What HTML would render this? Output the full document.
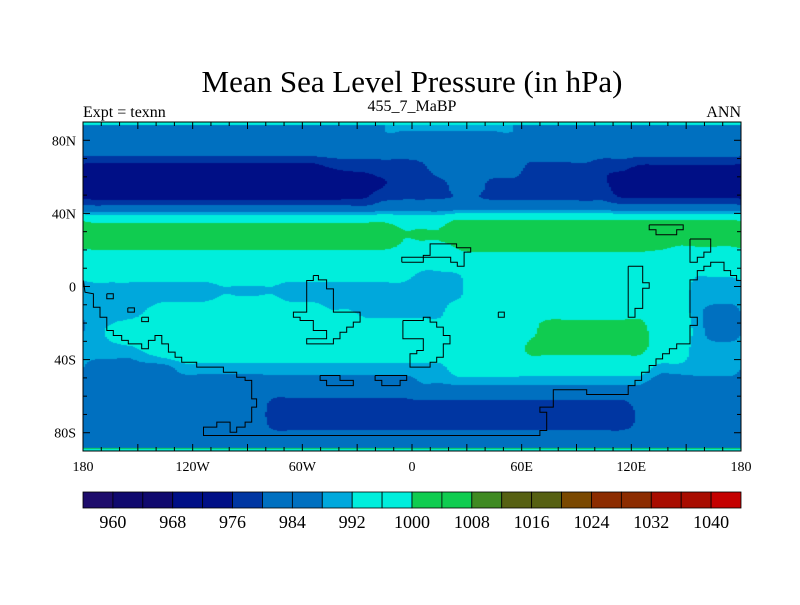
<!DOCTYPE html>
<html><head><meta charset="utf-8"><style>
body{margin:0;background:#fff;width:800px;height:600px;overflow:hidden;font-family:"Liberation Serif",serif}
svg text{font-family:"Liberation Serif",serif}
</style></head><body>
<svg id="chart" width="800" height="600" xmlns="http://www.w3.org/2000/svg">
<text x="412" y="92" font-size="31" text-anchor="middle">Mean Sea Level Pressure (in hPa)</text>
<text x="83" y="117" font-size="16">Expt = texnn</text>
<text x="412" y="111" font-size="16" text-anchor="middle">455_7_MaBP</text>
<text x="741" y="117" font-size="16" text-anchor="end">ANN</text>
<foreignObject x="83" y="122" width="658" height="329"><canvas xmlns="http://www.w3.org/1999/xhtml" id="cv" width="658" height="329" style="display:block"></canvas></foreignObject>
<g id="coast"></g>
<rect x="83" y="122" width="658" height="329" fill="none" stroke="#000" stroke-width="1"/>
<g id="axes"></g>
<g id="cbar"></g>
</svg>
<script>
// grid: rows lat 85..-85 step 10, cols lon -175..175 step 10 (hPa)
const lats=[85,75,65,55,45,35,25,15,5,-5,-15,-25,-35,-45,-55,-65,-75,-85];
const r=(v,n)=>Array(n).fill(v);
const mslp=[
 [...r(984,16),...r(988,8),...r(984,12)],
 r(983,36),
 [...r(974,13),976,977,977,978,978,979,...r(982,5),979,979,979,979,977,977,...r(975,6)],
 [...r(972,14),973,975,976,978,978,979,981,981,979,979,979,979,979,977,977,...r(973,7)],
 [...r(979,16),...r(982,13),...r(980,7)],
 [...r(1000,17),998,998,998,...r(1002,16)],
 [...r(1002,17),1000,1000,1000,1001,...r(1003,11),...r(1001,4)],
 [...r(997,18),995,995,...r(998,11),...r(997,5)],
 [...r(993,18),991,991,991,...r(997,12),992,992,992],
 [...r(990,7),992,992,992,992,...r(990,7),991,991,991,...r(997,12),990,990,990],
 [990,990,990,993,...r(997,9),993,993,...r(991,5),...r(997,4),...r(999,7),997,997,990,986,986],
 [990,993,...r(997,22),999,...r(1002,6),997,997,991,986,986],
 [990,990,990,993,...r(996,14),...r(997,6),...r(1001,7),997,997,990,990,990],
 [...r(986,5),...r(990,15),...r(995,11),...r(990,5)],
 [...r(984,18),...r(987,13),...r(984,5)],
 [...r(983,10),...r(978,20),...r(982,6)],
 [...r(983,10),...r(978,20),...r(981,6)],
 r(984,36)
];
const levels=[960,964,968,972,976,980,984,988,992,996,1000,1004,1008,1012,1016,1020,1024,1028,1032,1036,1040];
const colors=["#1e0c6c","#10096e","#10096e","#000f86","#000f86","#0036a2","#0070c0","#0070c0","#00a8dc","#00eedc","#00eedc","#10cc50","#10cc50","#3f8a22","#566012","#566012","#7a4800","#8c2c00","#8c2c00","#a80c00","#a80c00","#c40000"];
const tickLabelsX=["180","120W","60W","0","60E","120E","180"];
const tickLonX=[-180,-120,-60,0,60,120,180];
const tickLabelsY=["80N","40N","0","40S","80S"];
const tickLatY=[80,40,0,-40,-80];
const coasts=[
 [[-179.8,3.3],[-178.9,-3.1],[-174.3,-4],[-174.3,-11.3],[-170.7,-11.3],[-170.7,-16.8],[-167,-16.8],[-167,-24.1],[-163.4,-24.1],[-163.4,-26.8],[-158.8,-26.8],[-158.8,-29.5],[-155.2,-29.5],[-155.2,-31.4],[-147.9,-31.4],[-147.9,-34.1],[-144.2,-34.1],[-144.2,-29.5],[-140.6,-29.5],[-140.6,-26.8],[-136.9,-26.8],[-136.9,-31.4],[-133.3,-31.4],[-133.3,-35.9],[-129.6,-35.9],[-129.6,-38.7],[-126,-38.7],[-126,-41.4],[-117.8,-41.4],[-117.8,-44.1],[-103.2,-44.1],[-103.2,-46.9],[-95.9,-46.9],[-95.9,-49.6],[-91.3,-49.6],[-91.3,-51.4],[-87.7,-51.4],[-87.7,-61.5],[-85,-61.5],[-85,-66],[-87.7,-66],[-87.7,-74.2],[-91.3,-74.2],[-91.3,-76.9],[-95.9,-76.9],[-95.9,-79.7],[-99.5,-79.7],[-99.5,-74.2],[-106.8,-74.2],[-106.8,-76.9],[-114.1,-76.9],[-114.1,-81.5],
  [70,-81.5],[70,-78.8],[73.7,-78.8],[73.7,-68.8],[70,-68.8],[70,-66],[77.3,-66],[77.3,-56.5],[95.6,-56.5],[95.6,-59.1],[118.3,-59.1],[118.3,-54.2],[122,-54.2],[122,-51.4],[125.6,-51.4],[125.6,-46.9],[129.8,-46.9],[129.8,-43.2],[133.5,-43.2],[133.5,-39.6],[137.1,-39.6],[137.1,-36.8],[140.8,-36.8],[140.8,-34.1],[144.8,-34.1],[144.8,-31.4],[152.1,-31.4],[152.1,-21.3],[156.1,-21.3],[156.1,-16.8],[152.1,-16.8],[152.1,3.6],[156.1,3.6],[156.1,8.7],[159.7,8.7],[159.7,11.1],[163.4,11.1],[163.4,13.3],[170.7,13.3],[170.7,8.7],[174.3,8.7],[174.3,6],[177.6,6],[177.6,3.3],[180,3.3]],
 [[-54,6],[-51.2,6],[-51.2,3.6],[-46.7,3.6],[-46.7,-1.3],[-43,-1.3],[-43,-14],[-28.4,-14],[-28.4,-19.5],[-32.1,-19.5],[-32.1,-22.2],[-35.7,-22.2],[-35.7,-25],[-39.4,-25],[-39.4,-28.6],[-43,-28.6],[-43,-31.4],[-57.6,-31.4],[-57.6,-28.6],[-46.7,-28.6],[-46.7,-24.1],[-54,-24.1],[-54,-18.6],[-61.2,-18.6],[-61.2,-16.8],[-64.9,-16.8],[-64.9,-14],[-57.6,-14],[-57.6,3.3],[-54,3.3],[-54,6]],
 [[-5,-18.6],[6.2,-18.6],[6.2,-16.8],[9.9,-16.8],[9.9,-19.5],[13.5,-19.5],[13.5,-22.2],[17.1,-22.2],[17.1,-26.8],[20.8,-26.8],[20.8,-31.4],[17.1,-31.4],[17.1,-38.7],[13.5,-38.7],[13.5,-41.4],[9.9,-41.4],[9.9,-44.1],[-1.1,-44.1],[-1.1,-36.8],[2.6,-36.8],[2.6,-35],[6.2,-35],[6.2,-28.6],[-5,-28.6],[-5,-18.6]],
 [[-5.6,13.3],[-5.6,16],[6.2,16],[6.2,17],[9.9,17],[9.9,23.3],[24.4,23.3],[24.4,21.2],[32.1,21.2],[32.1,18.8],[28.5,18.8],[28.5,11.1],[24.8,11.1],[24.8,13.3],[21.2,13.3],[21.2,16],[6.2,16],[6.2,13.3],[-5.6,13.3]],
 [[129.8,33.7],[148.4,33.7],[148.4,31],[144.8,31],[144.8,28.3],[133.5,28.3],[133.5,31],[129.8,31],[129.8,33.7]],
 [[152.1,26],[163.4,26],[163.4,18.8],[159.7,18.8],[159.7,16],[156.1,16],[156.1,13.3],[152.1,13.3],[152.1,26]],
 [[118.3,11.1],[126.2,11.1],[126.2,2],[129.8,2],[129.8,-1],[126.2,-1],[126.2,-12],[122,-12],[122,-16.8],[118.3,-16.8],[118.3,11.1]],
 [[47.2,-14],[50.5,-14],[50.5,-16.8],[47.2,-16.8],[47.2,-14]],
 [[-167,-4],[-163.4,-4],[-163.4,-6.7],[-167,-6.7],[-167,-4]],
 [[-155.5,-11.7],[-151.9,-11.7],[-151.9,-14],[-155.5,-14],[-155.5,-11.7]],
 [[-147.9,-16.8],[-144.2,-16.8],[-144.2,-19.2],[-147.9,-19.2],[-147.9,-16.8]],
 [[-50.3,-48.7],[-39.4,-48.7],[-39.4,-51.4],[-32.1,-51.4],[-32.1,-54.2],[-46.7,-54.2],[-46.7,-51.4],[-50.3,-51.4],[-50.3,-48.7]],
 [[-20.2,-48.7],[-2.9,-48.7],[-2.9,-51.4],[-6.5,-51.4],[-6.5,-54.2],[-16.5,-54.2],[-16.5,-51.4],[-20.2,-51.4],[-20.2,-48.7]]
];
const X0=83,X1=741,Y0=122,Y1=451;
const xOf=lon=>X0+(lon+180)/360*(X1-X0);
const yOf=lat=>Y0+(90-lat)/180*(Y1-Y0);
const NS="http://www.w3.org/2000/svg";
function mk(t,a,p){const e=document.createElementNS(NS,t);for(const k in a)e.setAttribute(k,a[k]);(p||document.getElementById('chart')).appendChild(e);return e;}
function colorFor(v){let k=0;while(k<levels.length&&v>=levels[k])k++;return colors[k];}
function cr(p0,p1,p2,p3,t){return 0.5*((2*p1)+(-p0+p2)*t+(2*p0-5*p1+4*p2-p3)*t*t+(-p0+3*p1-3*p2+p3)*t*t*t);}
const NC=mslp[0].length,NR=lats.length;
function g(ri,ci){ri=Math.max(0,Math.min(NR-1,ri));ci=((ci%NC)+NC)%NC;return mslp[ri][ci];}
function sample(lon,lat){
 let c=(lon+175)/10;c=((c%NC)+NC)%NC;
 let rr=(lats[0]-lat)/10;rr=Math.max(0,Math.min(NR-1,rr));
 const c0=Math.floor(c),fc=c-c0,r0=Math.floor(rr),fr=rr-r0;
 const rows=[];
 for(let k=-1;k<=2;k++){rows.push(cr(g(r0+k,c0-1),g(r0+k,c0),g(r0+k,c0+1),g(r0+k,c0+2),fc));}
 return cr(rows[0],rows[1],rows[2],rows[3],fr);
}
const cv=document.getElementById('cv');


const ctx=cv.getContext('2d');const W=cv.width,H=cv.height;
for(let py=0;py<H;py++){for(let px=0;px<W;px+=2){
 const lon=-180+(px+1)/W*360,lat=90-(py+0.5)/H*180;
 ctx.fillStyle=colorFor(sample(lon,lat));ctx.fillRect(px,py,2,1);}}
ctx.fillStyle="#00eedc";ctx.fillRect(0,0,W,3);
ctx.fillStyle="#10cc50";ctx.fillRect(0,H-3,W,1);ctx.fillStyle="#00eedc";ctx.fillRect(0,H-2,W,2);
const cg=document.getElementById('coast');
coasts.forEach((pts,i)=>{let d="";pts.forEach((p,j)=>{d+=(j?"L":"M")+xOf(p[0]).toFixed(1)+","+yOf(p[1]).toFixed(1);});
 const e=mk('path',{d:d,fill:"none",stroke:"#000","stroke-width":1},cg);
 
 });
const ag=document.getElementById('axes');
for(let lon=-180;lon<=180;lon+=10){const maj=lon%30===0,x=xOf(lon),L=maj?7:4;
 mk('line',{x1:x,y1:Y0,x2:x,y2:Y0+L,stroke:"#000"},ag);mk('line',{x1:x,y1:Y1,x2:x,y2:Y1-L,stroke:"#000"},ag);}
for(let lat=-80;lat<=80;lat+=10){const y=yOf(lat),maj=lat%40===0,L=maj?7:4;
 mk('line',{x1:X0,y1:y,x2:X0+L,y2:y,stroke:"#000"},ag);mk('line',{x1:X1,y1:y,x2:X1-L,y2:y,stroke:"#000"},ag);}
tickLabelsX.forEach((t,i)=>{const e=mk('text',{x:xOf(tickLonX[i]),y:471,"font-size":14,"text-anchor":"middle"},ag);e.textContent=t;
 
 });
tickLabelsY.forEach((t,i)=>{const e=mk('text',{x:76,y:yOf(tickLatY[i])+5,"font-size":14,"text-anchor":"end"},ag);e.textContent=t;
 
 });
const bg=document.getElementById('cbar');const bw=(X1-X0)/colors.length;
colors.forEach((c,i)=>{const e=mk('rect',{x:X0+i*bw,y:492,width:bw,height:16,fill:c,stroke:"#000","stroke-width":0.8},bg);
 
 });
levels.forEach((v,k)=>{if(k%2)return;const e=mk('text',{x:X0+(k+1)*bw,y:528,"font-size":18,"text-anchor":"middle"},bg);e.textContent=v;
 
 });
</script>
</body></html>
